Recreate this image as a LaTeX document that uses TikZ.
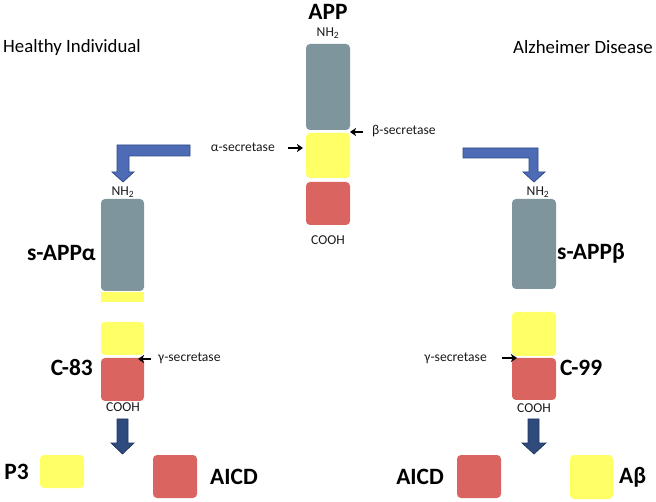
\documentclass[tikz,border=0pt]{standalone}
\usepackage{fontspec}
\setmainfont{Carlito}
\usetikzlibrary{arrows.meta}
\definecolor{pgray}{HTML}{7F959D}
\definecolor{pyellow}{HTML}{FFFF66}
\definecolor{pred}{HTML}{D96460}
\definecolor{bentfill}{HTML}{4E6CB5}
\definecolor{bentline}{HTML}{2E4A86}
\definecolor{downfill}{HTML}{2F4A7C}
\definecolor{downline}{HTML}{23385F}
\definecolor{stext}{HTML}{1A1A1A}
\tikzset{
  box/.style={inner sep=0pt, rounded corners=4pt, draw=none},
  graybox/.style={box, fill=pgray},
  yellowbox/.style={box, fill=pyellow},
  redbox/.style={box, fill=pred},
  small/.style={font=\fontsize{13.6}{15}\selectfont, inner sep=0pt, text=stext},
  header/.style={font=\fontsize{18.8}{21}\selectfont, inner sep=0pt},
  big/.style={font=\fontsize{23.4}{26}\selectfont\bfseries, inner sep=0pt},
  sarrow/.style={-{Stealth[length=6pt,width=8pt,inset=1.5pt]}, line width=1.3pt},
  bent/.style={fill=bentfill, draw=bentline, line width=0.7pt},
  down/.style={fill=downfill, draw=downline, line width=0.7pt},
}
\begin{document}
\begin{tikzpicture}[x=1pt,y=-1pt]
\useasboundingbox (0,0) rectangle (656,502);
% headers
\node[header, anchor=west] (hi) at (3,47) {Healthy Individual};
\node[header, anchor=east] (ad) at (653,47) {Alzheimer Disease};
% APP column
\node[big] (app) at (328,12) {APP};
\node[small] (nh2a) at (328,33) {NH\textsubscript{2}};
\node[graybox, minimum width=44pt, minimum height=86pt] (appg) at (328,87) {};
\node[yellowbox, minimum width=44pt, minimum height=45pt] (appy) at (328,155.5) {};
\node[redbox, minimum width=44pt, minimum height=43pt] (appr) at (328,203.5) {};
\node[small] (cooha) at (328,240) {COOH};
% secretases on APP
\node[small, anchor=west] (bsec) at (372,131) {β-secretase};
\coordinate (bstart) at (363,132);
\coordinate (bend) at (350,132);
\draw[sarrow] (bstart) -- (bend);
\node[small, anchor=east] (asec) at (275,147) {α-secretase};
\coordinate (astart) at (288,148);
\coordinate (aend) at (303,148);
\draw[sarrow] (astart) -- (aend);
% bent arrows
\draw[bent] (190,145) -- (117,145) -- (117,172) -- (112,172) -- (123,182) -- (134,172) -- (129,172) -- (129,156) -- (190,156) -- cycle;
\draw[bent] (463,148) -- (538,148) -- (538,172) -- (545,172) -- (534,182) -- (523,172) -- (529,172) -- (529,158) -- (463,158) -- cycle;
% left column
\node[small] (nh2l) at (123,192) {NH\textsubscript{2}};
\node[graybox, minimum width=43pt, minimum height=92pt] (lg) at (122.5,245) {};
\node[inner sep=0pt, fill=pyellow, minimum width=43pt, minimum height=10pt] (lstrip) at (122.5,297) {};
\node[big, anchor=east] (sappa) at (96,253) {s-APPα};
\node[yellowbox, minimum width=43pt, minimum height=33pt] (ly) at (122.5,338.5) {};
\node[redbox, minimum width=43pt, minimum height=43pt] (lr) at (122.5,379.5) {};
\node[big, anchor=east] (c83) at (93,368) {C-83};
\node[small, anchor=west] (gsecl) at (158,358) {γ-secretase};
\coordinate (glstart) at (151,359);
\coordinate (glend) at (138,359);
\draw[sarrow] (glstart) -- (glend);
\node[small] (coohl) at (123,407) {COOH};
\draw[down] (117,419) -- (128,419) -- (128,443) -- (134,443) -- (122.5,454) -- (111,443) -- (117,443) -- cycle;
\node[yellowbox, minimum width=44pt, minimum height=33pt] (p3box) at (62,471.5) {};
\node[big, anchor=east] (p3) at (29,472) {P3};
\node[redbox, minimum width=44pt, minimum height=43pt] (aicdlbox) at (175,476.5) {};
\node[big, anchor=west] (aicdl) at (210,477) {AICD};
% right column
\node[small] (nh2r) at (538,192) {NH\textsubscript{2}};
\node[graybox, minimum width=44pt, minimum height=90pt] (rg) at (534,244) {};
\node[big, anchor=west] (sappb) at (557,253) {s-APPβ};
\node[yellowbox, minimum width=44pt, minimum height=44pt] (ry) at (534,334) {};
\node[redbox, minimum width=44pt, minimum height=42pt] (rr) at (534,379) {};
\node[big, anchor=west] (c99) at (560,368) {C-99};
\node[small, anchor=east] (gsecr) at (487,358) {γ-secretase};
\coordinate (grstart) at (502,358);
\coordinate (grend) at (517,358);
\draw[sarrow] (grstart) -- (grend);
\node[small] (coohr) at (534,408) {COOH};
\draw[down] (528,419) -- (539,419) -- (539,443) -- (546,443) -- (534,454) -- (522,443) -- (528,443) -- cycle;
\node[redbox, minimum width=44pt, minimum height=43pt] (aicdrbox) at (479,476.5) {};
\node[big, anchor=east] (aicdr) at (444,477) {AICD};
\node[yellowbox, minimum width=43pt, minimum height=44pt] (abbox) at (591.5,477) {};
\node[big, anchor=west] (ab) at (619,477) {Aβ};
\end{tikzpicture}
\end{document}
